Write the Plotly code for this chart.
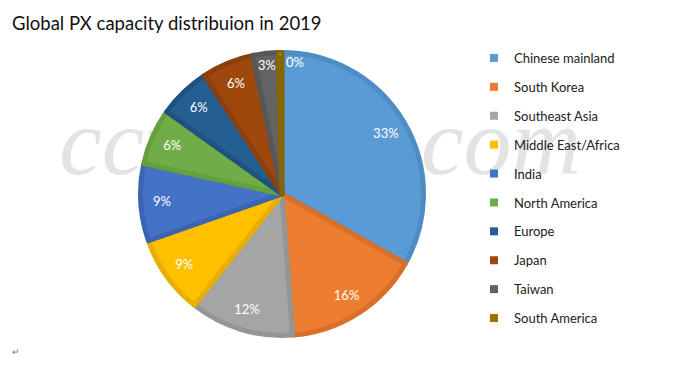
import math
import plotly.graph_objects as go

title_text = "Global PX capacity distribuion in 2019"
regions = ["Chinese mainland", "South Korea", "Southeast Asia", "Middle East/Africa",
           "India", "North America", "Europe", "Japan", "Taiwan", "South America"]
shares = [33.1, 15.6, 11.8, 9.0, 8.8, 6.4, 5.9, 5.9, 2.9, 0.4]
fill_colors = ["#5B9BD5", "#ED7D31", "#A5A5A5", "#FFC000", "#4472C4",
               "#70AD47", "#255E91", "#9E480E", "#636363", "#997300"]
edge_colors = ["#4E8CC6", "#D86E27", "#959595", "#E8AE00", "#3B65B2",
               "#64A03E", "#1F5283", "#8C3F0C", "#575757", "#876500"]
watermark = "ccfgroup.com"

W, H = 680, 374
OX, OY = 8, 8          # page body margin offset
cx, cy, R = 282 - OX, 194 - OY, 141.5

dom = dict(x=[(cx - R) / W, (cx + R) / W], y=[(H - cy - R) / H, (H - cy + R) / H])

fig = go.Figure()

# watermark underneath the pie (cartesian layer is drawn below the pie layer)
fig.add_trace(go.Scatter(
    x=[320 - OX], y=[H - 150 + OY], mode="text", text=[watermark],
    textposition="middle center",
    textfont=dict(family="Liberation Serif", size=96, color="#E3E3E3", style="italic"),
    showlegend=False, hoverinfo="skip",
))

# the slices
fig.add_trace(go.Pie(
    labels=regions, values=shares, sort=False, direction="clockwise", rotation=0,
    marker=dict(colors=fill_colors, line=dict(color=edge_colors, width=5)),
    textinfo="none", domain=dom, showlegend=False, hoverinfo="skip",
))

# the percentage labels, placed in an outer ring (transparent overlay)
fig.add_trace(go.Pie(
    labels=regions, values=shares, sort=False, direction="clockwise", rotation=0,
    hole=0.7,
    marker=dict(colors=["rgba(0,0,0,0)"] * len(regions), line=dict(width=0)),
    texttemplate="%{percent:.0%}", textposition="inside",
    insidetextorientation="horizontal",
    textfont=dict(family="Lato", size=13, color="white"),
    domain=dom, showlegend=False, hoverinfo="skip",
))

# legend entries (one per region, so item spacing can be controlled)
for name, col in zip(regions, fill_colors):
    fig.add_trace(go.Scatter(
        x=[None], y=[None], mode="markers", name=name, legendgroup=name,
        marker=dict(symbol="square", size=8, color=col),
    ))

# label for the tiny last slice (too thin for an inside label)
total = sum(shares)
mid = (total - shares[-1] / 2) / total * 2 * math.pi
lx = cx + 0.93 * R * math.sin(mid)
ly = cy - 0.93 * R * math.cos(mid)
tiny_label = f"{round(shares[-1] / total * 100)}%"

fig.update_layout(
    width=W, height=H, autosize=False,
    margin=dict(l=0, r=0, t=0, b=0),
    paper_bgcolor="white", plot_bgcolor="white",
    title=dict(text=title_text, x=(12 - OX) / W, xanchor="left",
               y=1 - (24 - OY) / H, yanchor="middle", yref="container",
               font=dict(family="Lato", size=18.5, color="#111111")),
    xaxis=dict(range=[0, W], visible=False, fixedrange=True, domain=[0, 1]),
    yaxis=dict(range=[0, H], visible=False, fixedrange=True, domain=[0, 1]),
    legend=dict(x=(514 - 40 - OX) / W, xanchor="left", y=1 - (43 - OY) / H, yanchor="top",
                traceorder="grouped", tracegroupgap=9,
                font=dict(family="Lato", size=13, color="#222222"),
                bgcolor="rgba(0,0,0,0)"),
    showlegend=True,
    annotations=[
        dict(text=tiny_label, x=lx / W, y=1 - ly / H, xref="paper", yref="paper",
             xanchor="left", yanchor="middle", xshift=4, showarrow=False,
             font=dict(family="Lato", size=13, color="white")),
        dict(text="↵", x=(10 - OX) / W, y=1 - (360 - OY) / H,
             xref="paper", yref="paper",
             showarrow=False, font=dict(size=9, color="#777777")),
    ],
)

fig.write_html("out.html")
